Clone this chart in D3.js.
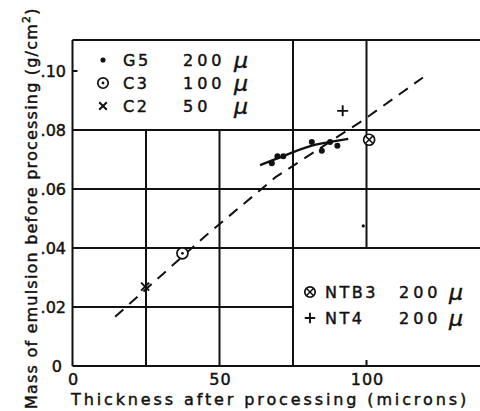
<!DOCTYPE html>
<html>
<head>
<meta charset="utf-8">
<script src="https://cdn.jsdelivr.net/npm/d3@7"></script>
<style>
  body { margin: 0; background: #fff; }
  svg { display: block; }
  text { font-family: "DejaVu Sans", sans-serif; fill: #111; stroke: #111; stroke-width: 0.45px; }
</style>
</head>
<body>
<div class="canvas"></div>
<script>
/**
 * Data
 */
const g5Thickness = [67.8, 69.7, 71.7, 81.4, 84.8, 87.6, 90.1, 98.9]
const g5Mass      = [0.0687, 0.0711, 0.0711, 0.0759, 0.0730, 0.0759, 0.0747, 0.0475]
const g5CurveX    = [63.8, 75.1, 83.1, 93.8]
const g5CurveY    = [0.0681, 0.0725, 0.0751, 0.0770]
const c3Point     = [37.4, 0.0382]
const c2Point     = [24.7, 0.0269]
const ntb3Point   = [100.9, 0.0767]
const nt4Point    = [91.9, 0.0865]
const guideX      = [14.5, 45.1, 69.2, 99.1, 119.2]
const guideY      = [0.0167, 0.0440, 0.0641, 0.0835, 0.0978]
const xTicks      = [0, 50, 100]
const yTicks      = [0, 0.02, 0.04, 0.06, 0.08, 0.10]
const yTickLabels = ["0", ".02", ".04", ".06", ".08", ".10"]
const topLegend   = [["dot", "G5", "200"], ["odot", "C3", "100"], ["cross", "C2", "50"]]
const lowLegend   = [["otimes", "NTB3", "200"], ["plus", "NT4", "200"]]

/**
 * Dimension setup
 */
const dims = { width: 480, height: 411 }
const ink = "#111"

const svg = d3.select(".canvas")
    .append("svg")
    .attr("width", dims.width)
    .attr("height", dims.height)

const x = d3.scaleLinear().domain([0, 100]).range([72.5, 366.5])
const y = d3.scaleLinear().domain([0, 0.08]).range([366, 130])
const xMax = x.invert(482)
const yTop = y.invert(40)

/**
 * Frame and grid (pieces of lines, the legends sit in the gaps)
 */
const vLines = [[0, 0, yTop], [25, 0, 0.08], [50, 0, 0.08], [75, 0, yTop], [100, 0.04, yTop]]
const hLines = [[0, 0, xMax], [0.02, 0, 75], [0.04, 0, xMax], [0.06, 0, xMax], [0.08, 0, xMax], [yTop, 0, xMax]]

const grid = svg.append("g")
    .attr("stroke", ink)
    .attr("stroke-width", 2)

grid.selectAll("line.v")
    .data(vLines)
    .enter().append("line")
        .attr("class", "v")
        .attr("x1", d => x(d[0])).attr("x2", d => x(d[0]))
        .attr("y1", d => y(d[1])).attr("y2", d => y(d[2]))

grid.selectAll("line.h")
    .data(hLines)
    .enter().append("line")
        .attr("class", "h")
        .attr("y1", d => y(d[0])).attr("y2", d => y(d[0]))
        .attr("x1", d => x(d[1])).attr("x2", d => x(d[2]))

// small inward ticks: .10 on the left, 100 at the bottom
grid.append("line")
    .attr("x1", x(0)).attr("x2", x(0) + 5)
    .attr("y1", y(0.10)).attr("y2", y(0.10))
grid.append("line")
    .attr("x1", x(100)).attr("x2", x(100))
    .attr("y1", y(0)).attr("y2", y(0) - 6)

/**
 * Tick labels
 */
svg.selectAll("text.xt")
    .data(xTicks)
    .enter().append("text")
        .attr("class", "xt")
        .attr("x", d => x(d) + 1)
        .attr("y", 385)
        .attr("text-anchor", "middle")
        .attr("font-size", 16)
        .attr("letter-spacing", 1)
        .text(d => d)

svg.selectAll("text.yt")
    .data(yTicks)
    .enter().append("text")
        .attr("class", "yt")
        .attr("x", (d, i) => i === 0 ? 62 : 66)
        .attr("y", d => y(d))
        .attr("dy", "0.36em")
        .attr("text-anchor", "end")
        .attr("font-size", 16)
        .text((d, i) => yTickLabels[i])

/**
 * Axis titles, stretched to the width they take in the picture
 */
const fitText = (sel, target) => {
    const n = sel.text().length
    const w = sel.node().getComputedTextLength()
    sel.attr("letter-spacing", (target - w) / n)
}

const xTitle = svg.append("text")
    .attr("x", 71)
    .attr("y", 405)
    .attr("font-size", 16)
    .text("Thickness after processing (microns)")
fitText(xTitle, 398)

const yTitle = svg.append("text")
    .attr("transform", "translate(37,409) rotate(-90)")
    .attr("font-size", 16)
yTitle.append("tspan").text("Mass of emulsion before processing (g/cm")
fitText(yTitle, 386)
yTitle.append("tspan")
    .attr("dy", -7)
    .attr("font-size", 11)
    .text("2")
yTitle.append("tspan")
    .attr("dy", 7)
    .text(")")

/**
 * Marker shapes
 */
const drawMark = (g, kind, cx, cy, s) => {
    if (kind === "dot") {
        g.append("circle").attr("cx", cx).attr("cy", cy).attr("r", 3 * s).attr("fill", ink)
    } else if (kind === "odot") {
        g.append("circle").attr("cx", cx).attr("cy", cy).attr("r", 5.5 * s)
            .attr("fill", "#fff").attr("stroke", ink).attr("stroke-width", 1.7)
        g.append("circle").attr("cx", cx).attr("cy", cy).attr("r", 1.4).attr("fill", ink)
    } else if (kind === "cross") {
        const a = 4 * s
        g.append("path")
            .attr("d", `M${cx - a},${cy - a}L${cx + a},${cy + a}M${cx - a},${cy + a}L${cx + a},${cy - a}`)
            .attr("stroke", ink).attr("stroke-width", 2)
    } else if (kind === "otimes") {
        const r = 5.5 * s, a = r * 0.7
        g.append("circle").attr("cx", cx).attr("cy", cy).attr("r", r)
            .attr("fill", "#fff").attr("stroke", ink).attr("stroke-width", 1.7)
        g.append("path")
            .attr("d", `M${cx - a},${cy - a}L${cx + a},${cy + a}M${cx - a},${cy + a}L${cx + a},${cy - a}`)
            .attr("stroke", ink).attr("stroke-width", 1.5)
    } else if (kind === "plus") {
        const a = 5.5 * s
        g.append("path")
            .attr("d", `M${cx - a},${cy}L${cx + a},${cy}M${cx},${cy - a}L${cx},${cy + a}`)
            .attr("stroke", ink).attr("stroke-width", 1.9)
    }
}

/**
 * Lines
 */
const guide = d3.line()
    .x((d, i) => x(guideX[i]))
    .y((d, i) => y(guideY[i]))

svg.append("path")
    .attr("d", guide(guideX))
    .attr("fill", "none")
    .attr("stroke", ink)
    .attr("stroke-width", 2)
    .attr("stroke-dasharray", "11,8")

const g5Line = d3.line()
    .x((d, i) => x(g5CurveX[i]))
    .y((d, i) => y(g5CurveY[i]))
    .curve(d3.curveNatural)

svg.append("path")
    .attr("d", g5Line(g5CurveX))
    .attr("fill", "none")
    .attr("stroke", ink)
    .attr("stroke-width", 2.4)

/**
 * Points
 */
const marks = svg.append("g")
g5Thickness.forEach((t, i) => drawMark(marks, "dot", x(t), y(g5Mass[i]), i === 7 ? 0.55 : 1))
drawMark(marks, "odot", x(c3Point[0]), y(c3Point[1]), 1)
drawMark(marks, "cross", x(c2Point[0]), y(c2Point[1]), 1)
drawMark(marks, "otimes", x(ntb3Point[0]), y(ntb3Point[1]), 1)
drawMark(marks, "plus", x(nt4Point[0]), y(nt4Point[1]), 1)

/**
 * Legends (the mu sits in a column of its own)
 */
const legendRow = (item, sx, nx, vx, mx, cy) => {
    const g = svg.append("g")
    drawMark(g, item[0], sx, cy, item[0] === "dot" ? 0.85 : 0.95)
    g.append("text")
        .attr("x", nx).attr("y", cy).attr("dy", "0.36em")
        .attr("font-size", 16).attr("letter-spacing", 2.5)
        .text(item[1])
    g.append("text")
        .attr("x", vx).attr("y", cy).attr("dy", "0.36em")
        .attr("font-size", 16).attr("letter-spacing", 4)
        .text(item[2])
    g.append("text")
        .attr("x", mx).attr("y", cy).attr("dy", "0.36em")
        .attr("font-family", "DejaVu Serif")
        .attr("font-style", "italic")
        .attr("font-size", 22)
        .text("\u03bc")
}

const topRows = [60, 83, 106]
topLegend.forEach((d, i) => legendRow(d, 103, 123, 183, 234, topRows[i]))

const lowRows = [292, 318]
lowLegend.forEach((d, i) => legendRow(d, 310, 325, 399, 449, lowRows[i]))
</script>
</body>
</html>
